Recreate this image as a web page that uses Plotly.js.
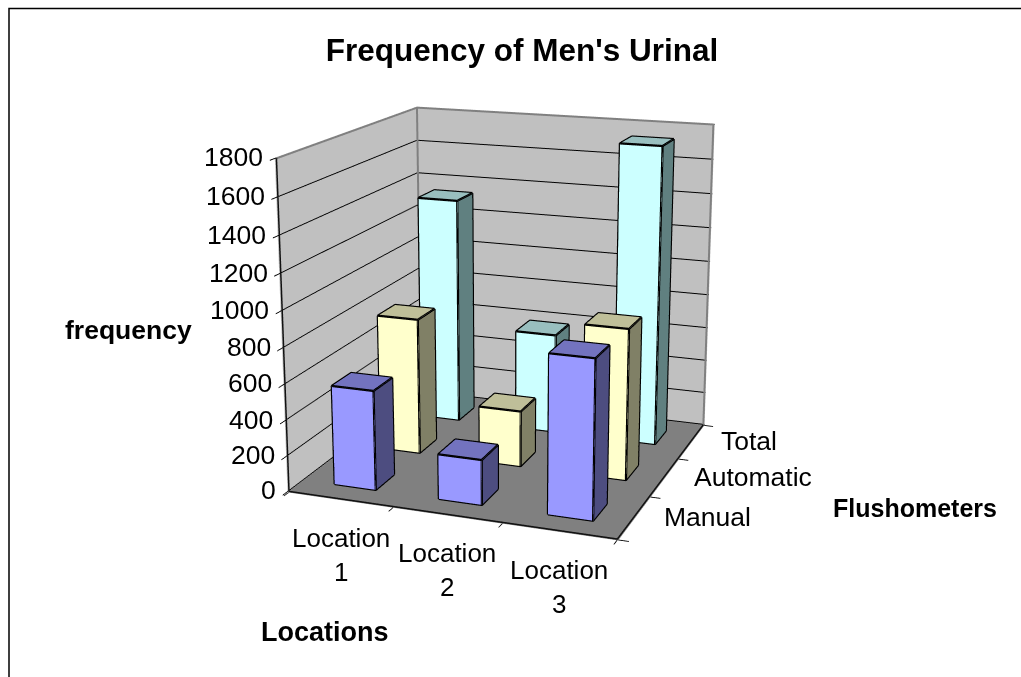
<!DOCTYPE html>
<html><head><meta charset="utf-8">
<script src="https://cdn.plot.ly/plotly-3.0.1.min.js"></script>
<style>html,body{margin:0;padding:0;background:#fff;width:1021px;height:677px;overflow:hidden;position:relative}
#chart{position:absolute;left:-176px;top:-381px;width:1367px;height:1367px}</style>
</head><body><div id="chart"></div>
<script>
const locations = ["Location<br>1", "Location<br>2", "Location<br>3"];
const flushometers = ["Manual", "Automatic", "Total"];
const manual = [557, 250, 868];
const automatic = [785, 320, 855];
const total = [1340, 590, 1735];
const series = [manual, automatic, total];
const zTicks = [0,200,400,600,800,1000,1200,1400,1600,1800];
const palette = [
  {top:"#7373bf", front:"#9999ff", side:"#4d4d80"},
  {top:"#bfbf99", front:"#ffffcc", side:"#808066"},
  {top:"#99bfbf", front:"#ccffff", side:"#608080"}
];
const halfWidth = 0.2;
const OX = 176, OY = 381, S = 1367;
const px = x => (x + OX) / S, py = y => 1 - (y + OY) / S;
const traces = [];
series.forEach((vals, s) => {
  vals.forEach((v, c) => {
    const x0=c-halfWidth,x1=c+halfWidth,y0=s-halfWidth,y1=s+halfWidth;
    const X=[x0,x1,x1,x0,x0,x1,x1,x0],Y=[y0,y0,y1,y1,y0,y0,y1,y1],Z=[0,0,0,0,v,v,v,v];
    const p=palette[s];
    traces.push({type:"mesh3d",x:X,y:Y,z:Z,
      i:[0,0,1,1,4,4,0,0,3,3,2,2],j:[1,2,2,6,5,6,1,5,0,4,3,7],k:[2,3,6,5,6,7,5,4,4,7,7,6],
      facecolor:[p.side,p.side,p.side,p.side,p.top,p.top,p.front,p.front,p.side,p.side,p.side,p.side],
      flatshading:true,lighting:{ambient:1,diffuse:0,specular:0,roughness:1,fresnel:0},hoverinfo:"skip",showscale:false});
    const order=[0,1,2,3,0,4,5,6,7,4,null,1,5,null,2,6,null,3,7];
    traces.push({type:"scatter3d",mode:"lines",hoverinfo:"skip",showlegend:false,
      x:order.map(i=>i===null?null:X[i]),y:order.map(i=>i===null?null:Y[i]),z:order.map(i=>i===null?null:Z[i]),
      line:{color:"#000",width:4.5}});
  });
});
const lo=-0.5, hi=2.5, zMax=1800;
traces.push({type:"scatter3d",mode:"lines",hoverinfo:"skip",showlegend:false,
  x:[lo,lo,hi,hi,null,lo,lo],y:[lo,hi,hi,hi,null,hi,hi],z:[zMax,zMax,zMax,0,null,0,zMax],line:{color:"#808080",width:4}});
traces.push({type:"scatter3d",mode:"lines",hoverinfo:"skip",showlegend:false,
  x:[lo,lo,null,lo,hi,hi],y:[lo,lo,null,lo,lo,hi],z:[0,zMax,null,0,0,0],line:{color:"#111",width:3}});
const sceneAnn = [];
zTicks.forEach(v=>sceneAnn.push({x:lo,y:lo,z:v,text:String(v),showarrow:false,xanchor:"right",yanchor:"middle",xshift:-11,yshift:1,font:{size:26.5}}));
locations.forEach((t,i)=>sceneAnn.push({x:i,y:lo,z:0,text:t,showarrow:false,xanchor:"center",yanchor:"top",xshift:0,yshift:-22,font:{size:26}}));
flushometers.forEach((t,i)=>sceneAnn.push({x:hi,y:i,z:0,text:t,showarrow:false,xanchor:"left",yanchor:"middle",xshift:28,font:{size:26.5}}));
const axisCommon={showspikes:false,showticklabels:false,autorange:false,showline:false,zeroline:false,ticks:"outside",ticklen:8,tickcolor:"#000",tickwidth:2};
const layout = {
  width:S,height:S,margin:{l:0,r:0,t:0,b:0},paper_bgcolor:"rgba(0,0,0,0)",showlegend:false,
  font:{family:"Liberation Sans, Arial, sans-serif",color:"#000",size:25},
  title:{text:"<b>Frequency of Men's Urinal</b>",xref:"paper",yref:"paper",x:px(522),xanchor:"center",y:py(50),yanchor:"middle",font:{size:31.5}},
  annotations:[
    {xref:"paper",yref:"paper",x:px(128.5),y:py(330),xanchor:"center",yanchor:"middle",text:"<b>frequency</b>",showarrow:false,font:{size:26.5}},
    {xref:"paper",yref:"paper",x:px(325),y:py(632),xanchor:"center",yanchor:"middle",text:"<b>Locations</b>",showarrow:false,font:{size:27}},
    {xref:"paper",yref:"paper",x:px(915),y:py(508),xanchor:"center",yanchor:"middle",text:"<b>Flushometers</b>",showarrow:false,font:{size:25}}
  ],
  shapes:[{type:"rect",xref:"paper",yref:"paper",x0:px(9),x1:px(1040),y0:py(8.5),y1:py(700),line:{color:"#000",width:1.5},fillcolor:"rgba(0,0,0,0)"}],
  scene:{
    domain:{x:[0,1],y:[0,1]},
    aspectmode:"manual",aspectratio:{x:0.197,y:0.194,z:0.194},
    camera:{eye:{x:0.324,y:-0.881,z:0.2587},center:{x:0,y:0,z:0},up:{x:0,y:0,z:1},projection:{type:"perspective"}},
    xaxis:Object.assign({},axisCommon,{title:{text:""},tickvals:[-0.5,0.5,1.5,2.5],range:[lo-0.01,hi+0.01],showbackground:true,backgroundcolor:"#c0c0c0",showgrid:false}),
    yaxis:Object.assign({},axisCommon,{title:{text:""},tickvals:[-0.5,0.5,1.5,2.5],range:[lo-0.01,hi+0.01],showbackground:true,backgroundcolor:"#c0c0c0",showgrid:false}),
    zaxis:Object.assign({},axisCommon,{title:{text:""},tickvals:zTicks,range:[-4,zMax+4],showbackground:true,backgroundcolor:"#808080",showgrid:true,gridcolor:"#000",gridwidth:2}),
    annotations:sceneAnn
  }
};
Plotly.newPlot("chart",traces,layout,{displayModeBar:false});
</script></body></html>
